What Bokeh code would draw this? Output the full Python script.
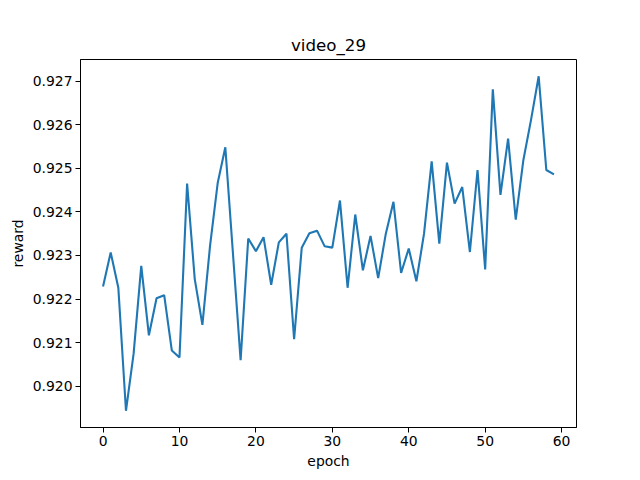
from bokeh.plotting import figure
from bokeh.models import Range1d, FixedTicker, PrintfTickFormatter
from bokeh.embed import file_html
from bokeh.resources import INLINE

epochs = list(range(60))
reward = [
    0.92229, 0.92307, 0.92226, 0.91944, 0.92075, 0.92276, 0.92117, 0.92202, 0.92209, 0.92082,
    0.92066, 0.92465, 0.92246, 0.92141, 0.92322, 0.92466, 0.92548, 0.92304, 0.92060, 0.92339,
    0.92310, 0.92342, 0.92233, 0.92330, 0.92350, 0.92108, 0.92318, 0.92351, 0.92357, 0.92321,
    0.92318, 0.92426, 0.92226, 0.92394, 0.92266, 0.92345, 0.92248, 0.92350, 0.92423, 0.92260,
    0.92316, 0.92241, 0.92350, 0.92516, 0.92327, 0.92513, 0.92419, 0.92457, 0.92308, 0.92496,
    0.92268, 0.92681, 0.92439, 0.92568, 0.92382, 0.92519, 0.92611, 0.92711, 0.92496, 0.92486,
]
x_ticks = [0, 10, 20, 30, 40, 50, 60]
y_ticks = [0.920, 0.921, 0.922, 0.923, 0.924, 0.925, 0.926, 0.927]

xpad = (max(epochs) - min(epochs)) * 0.05
ypad = (max(reward) - min(reward)) * 0.05

p = figure(width=620, height=471, output_backend="svg", toolbar_location=None,
           title="video_29",
           x_range=Range1d(min(epochs) - xpad, max(epochs) + xpad),
           y_range=Range1d(min(reward) - ypad, max(reward) + ypad),
           min_border_left=80, min_border_right=44, min_border_top=59, min_border_bottom=43)

p.line(epochs, reward, line_color="#1f77b4", line_width=2.1)

p.title.align = "center"
p.title.text_font = "DejaVu Sans"
p.title.text_font_size = "16.7px"
p.title.text_font_style = "normal"
p.title.text_color = "black"

p.xgrid.visible = False
p.ygrid.visible = False
p.outline_line_color = "black"
p.outline_line_alpha = 1
p.outline_line_width = 1
p.background_fill_color = "white"
p.border_fill_color = "white"

p.xaxis.ticker = FixedTicker(ticks=x_ticks)
p.yaxis.ticker = FixedTicker(ticks=y_ticks)
p.yaxis.formatter = PrintfTickFormatter(format="%.3f")
p.xaxis.axis_label = "epoch"
p.yaxis.axis_label = "reward"
for ax in (p.xaxis, p.yaxis):
    ax.major_label_text_font = "DejaVu Sans"
    ax.major_label_text_font_size = "13.9px"
    ax.major_label_text_color = "black"
    ax.axis_label_text_font = "DejaVu Sans"
    ax.axis_label_text_font_size = "13.9px"
    ax.axis_label_text_font_style = "normal"
    ax.axis_label_text_color = "black"
    ax.minor_tick_line_color = None
    ax.major_tick_out = 5
    ax.major_tick_in = 0
    ax.major_tick_line_color = "black"
    ax.axis_line_color = "black"
    ax.major_label_standoff = 3
    ax.axis_label_standoff = 4

open("out.html", "w").write(file_html(p, INLINE))
